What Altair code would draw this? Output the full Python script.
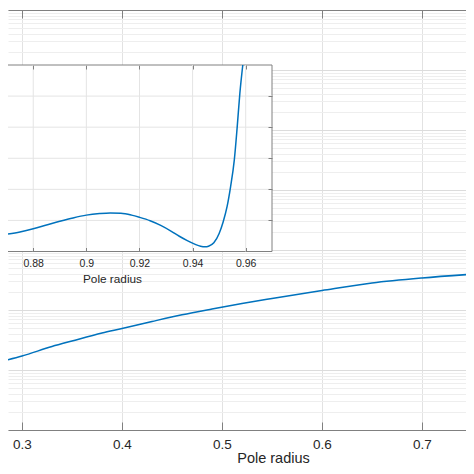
import altair as alt
import pandas as pd

# ---- main curve ----
main_x = [0.28, 0.30, 0.33, 0.35, 0.38, 0.40, 0.43, 0.46, 0.49, 0.52, 0.55, 0.60, 0.65, 0.70, 0.75, 0.76]
main_y = [0.001396, 0.001711, 0.002464, 0.003043, 0.004137, 0.004916, 0.006432, 0.008318,
          0.01039, 0.01283, 0.01555, 0.02113, 0.02818, 0.03415, 0.03950, 0.04055]

# ---- inset curve ----
inset_x = [0.8705, 0.875, 0.880, 0.885, 0.890, 0.895, 0.900, 0.905, 0.909, 0.913, 0.917, 0.920,
           0.924, 0.928, 0.932, 0.935, 0.938, 0.941, 0.943, 0.9447, 0.946, 0.948, 0.950, 0.9515,
           0.953, 0.9543, 0.9557, 0.9568, 0.9578, 0.9589]
inset_y = [0.56, 0.63, 0.73, 0.85, 0.97, 1.08, 1.17, 1.22, 1.24, 1.23, 1.17, 1.10,
           0.99, 0.84, 0.65, 0.49, 0.35, 0.23, 0.17, 0.15, 0.17, 0.28, 0.58, 0.95,
           1.45, 2.08, 2.94, 4.01, 5.09, 6.0]

main_xticks = [0.3, 0.4, 0.5, 0.6, 0.7]
inset_xticks = [0.88, 0.90, 0.92, 0.94, 0.96]
inset_yticks = [1, 2, 3, 4, 5]
decade_exps = [-4, -3, -2, -1, 0, 1, 2, 3]

decades = [10.0 ** k for k in decade_exps]
minors = [m * 10.0 ** k for k in decade_exps[:-1] for m in range(2, 10)]

main_df = pd.DataFrame({"x": main_x, "y": main_y})
inset_df = pd.DataFrame({"x": inset_x, "y": inset_y})

X_LO, X_HI = 0.8705, 0.9699
Y_LO, Y_HI = 0, 6
BOX_LEFT = 0.862  # inset box continues past the left edge of the picture

box_df = pd.DataFrame({"x": [BOX_LEFT], "x2": [X_HI], "y": [Y_LO], "y2": [Y_HI]})
grid_rows = [{"x": t, "x2": t, "y": Y_LO, "y2": Y_HI} for t in inset_xticks] + \
            [{"x": BOX_LEFT, "x2": X_HI, "y": v, "y2": v} for v in inset_yticks]
grid_df = pd.DataFrame(grid_rows)

W, H = 458, 420
FONT = "Liberation Sans"
TXT = "#262626"
AX = "#808080"
BLUE = "#0072BD"

mx = alt.Scale(domain=[0.286, 0.286 + W / 1000.0], nice=False, zero=False)
my = alt.Scale(type="log", domain=[1e-4, 1e3], nice=False)
ix = alt.Scale(domain=[X_LO, X_HI], range=[0, 264], nice=False, zero=False)
iy = alt.Scale(domain=[Y_LO, Y_HI], range=[241.5, 55], nice=False, zero=False)

INSET_BOTTOM = 241.5
INSET_TOP = 55
INSET_RIGHT = 264

A = alt.Chart(main_df).mark_line(color=BLUE, strokeWidth=1.5, clip=True, interpolate="monotone").encode(
    x=alt.X("x:Q", scale=mx, axis=alt.Axis(
        orient="bottom", values=main_xticks, format=".1f", grid=True, gridColor="#e2e2e2",
        domain=True, domainColor=AX, ticks=False, tickSize=0,
        labelFont=FONT, labelFontSize=13.5, labelColor=TXT, labelBaseline="alphabetic",
        labelPadding=18.5, title="Pole radius", titleFont=FONT, titleFontSize=14.5,
        titleFontWeight="normal", titleColor=TXT, titleX=265, titleY=32.5,
        titleBaseline="alphabetic", titleAnchor="start", titleAlign="center", zindex=0)),
    y=alt.Y("y:Q", scale=my, axis=alt.Axis(
        orient="left", values=minors, grid=True, gridColor="#eeeeee", labels=False,
        ticks=False, domain=False, title=None, zindex=0)),
)

B = alt.Chart(main_df).mark_line(opacity=0).encode(
    x=alt.X("x:Q", scale=mx, axis=alt.Axis(
        orient="top", offset=-H, values=main_xticks, ticks=True, tickSize=8, tickColor=AX,
        labels=False, domain=False, grid=False, title=None, zindex=0)),
    y=alt.Y("y:Q", scale=my, axis=alt.Axis(
        orient="right", offset=-W, values=decades, grid=True, gridColor="#dcdcdc", labels=False,
        ticks=False, domain=False, title=None, zindex=0)),
)

C = alt.Chart(main_df).mark_line(opacity=0).encode(
    x=alt.X("x:Q", scale=mx, axis=alt.Axis(
        orient="bottom", offset=-H, values=main_xticks, ticks=True, tickSize=8, tickColor=AX,
        labels=False, domain=True, domainColor=AX, grid=False, title=None, zindex=0)),
    y=alt.Y("y:Q", scale=my, axis=None),
)

D = alt.Chart(box_df).mark_rect(fill="white", stroke=AX, strokeWidth=1).encode(
    x=alt.X("x:Q", scale=ix, axis=alt.Axis(
        orient="bottom", offset=-(H - INSET_BOTTOM), values=inset_xticks, format=".2~f",
        ticks=False, tickSize=0, domain=False, grid=False,
        labelFont=FONT, labelFontSize=10.5, labelColor=TXT, labelBaseline="alphabetic",
        labelPadding=15, title="Pole radius", titleFont=FONT, titleFontSize=11.8,
        titleFontWeight="normal", titleColor=TXT, titleX=104, titleY=31,
        titleBaseline="alphabetic", titleAnchor="start", titleAlign="center", zindex=1)),
    x2="x2:Q",
    y=alt.Y("y:Q", scale=iy, axis=alt.Axis(
        orient="left", offset=-INSET_RIGHT, values=inset_yticks, ticks=True, tickSize=4,
        tickColor=AX, labels=False, domain=False, grid=False, title=None, zindex=1)),
    y2="y2:Q",
)

E = alt.Chart(grid_df).mark_rule(color="#e4e4e4", strokeWidth=1).encode(
    x=alt.X("x:Q", scale=ix, axis=alt.Axis(
        orient="top", offset=-INSET_BOTTOM, values=inset_xticks, ticks=True, tickSize=4,
        tickColor=AX, labels=False, domain=False, grid=False, title=None, zindex=1)),
    x2="x2:Q",
    y=alt.Y("y:Q", scale=iy, axis=None),
    y2="y2:Q",
)

F = alt.Chart(inset_df).mark_line(color=BLUE, strokeWidth=1.5, interpolate="monotone").encode(
    x=alt.X("x:Q", scale=ix, axis=alt.Axis(
        orient="bottom", offset=-(H - INSET_TOP), values=inset_xticks, ticks=True, tickSize=4,
        tickColor=AX, labels=False, domain=False, grid=False, title=None, zindex=1)),
    y=alt.Y("y:Q", scale=iy, axis=None),
)

chart = alt.layer(A, B, C, D, E, F).resolve_scale(
    x="independent", y="independent"
).resolve_axis(
    x="independent", y="independent"
).properties(
    width=W, height=H,
    padding={"left": 0, "top": 2, "right": 0, "bottom": 36},
    autosize=alt.AutoSizeParams(type="none"),
    background="white",
).configure_view(stroke=None)

chart.save("out.html", embed_options={"renderer": "svg", "actions": False})
